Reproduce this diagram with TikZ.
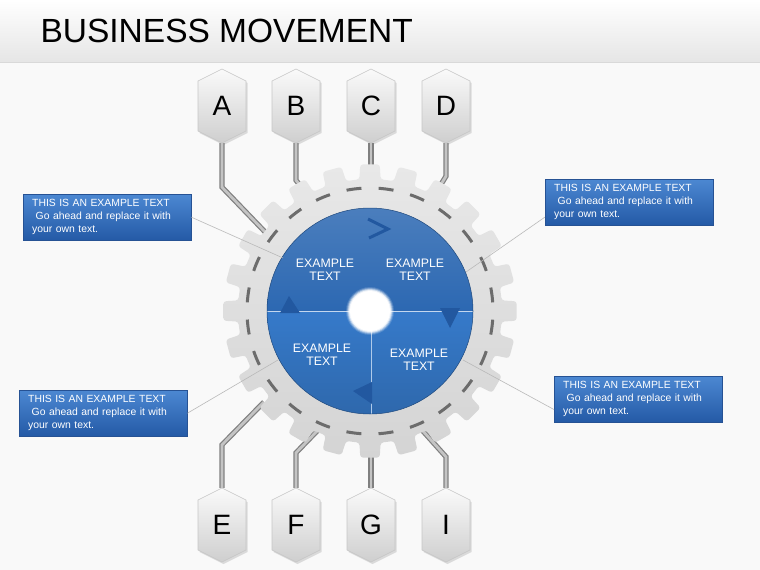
\documentclass[tikz,border=0pt]{standalone}
\usepackage{fontspec}
\setmainfont{Liberation Sans}
\usetikzlibrary{positioning, calc}
\definecolor{bgwhite}{RGB}{249,249,249}
\definecolor{discdark}{RGB}{44,104,178}
\definecolor{disclight}{RGB}{54,122,202}
\definecolor{geartop}{RGB}{232,232,232}
\definecolor{gearbot}{RGB}{212,212,212}
\definecolor{dashgray}{RGB}{108,108,108}
\definecolor{pipeedge}{RGB}{128,128,128}
\definecolor{pipecore}{RGB}{196,196,196}
\definecolor{boxtop}{RGB}{76,136,210}
\definecolor{boxbot}{RGB}{36,90,166}
\definecolor{boxedge}{RGB}{38,82,148}
\definecolor{arrowblue}{RGB}{34,88,160}

\begin{document}
\begin{tikzpicture}[
    x=1pt, y=-1pt,
    hexlabel/.style={
        minimum width=48pt,
        minimum height=74pt,
        inner sep=0pt,
        font=\fontsize{28}{30}\selectfont
    },
    hexfill/.style={top color=white!96!gray, bottom color=gray!38, draw=gray!45, line width=0.6pt},
    pipe/.style={draw=pipeedge, line width=1.2pt, double=pipecore, double distance=2.8pt},
    infobox/.style={
        draw=boxedge,
        top color=boxtop,
        bottom color=boxbot,
        text=white,
        anchor=north west,
        text width=150pt,
        minimum width=168pt,
        minimum height=46pt,
        inner xsep=9pt,
        inner ysep=0pt,
        align=left,
        font=\fontsize{10.4}{13}\selectfont
    },
    disctext/.style={text=white, align=center, font=\fontsize{12.3}{13.5}\selectfont},
    pointer/.style={draw=gray!55, line width=0.6pt}
]

    % Hintergrund und Titel
    \useasboundingbox (0,0) rectangle (760,570);
    \fill[bgwhite] (0,0) rectangle (760,570);
    \shade[top color=white, bottom color=gray!20] (0,0) rectangle (760,62);
    \draw[gray!30, line width=1pt] (0,62) -- (760,62);
    \node[anchor=base west, font=\fontsize{33.5}{36}\selectfont] (title) at (37,42) {BUSINESS MOVEMENT};

    % Sechsecke
    \foreach \name/\x/\y in {A/222/106, B/296/106, C/371/106, D/446/106,
                             E/222/525, F/296/525, G/371/525, I/446/525} {
        \fill[black, opacity=0.12] (\x+1.5,\y-35) -- ++(24,12) -- ++(0,50) -- ++(-24,12) -- ++(-24,-12) -- ++(0,-50) -- cycle;
        \shade[hexfill] (\x,\y-37) -- ++(24,12) -- ++(0,50) -- ++(-24,12) -- ++(-24,-12) -- ++(0,-50) -- cycle;
        \node[hexlabel] (hex\name) at (\x,\y) {\name};
    }

    % Zahnrad
    \coordinate (gear) at (370,311);
    \coordinate (gA) at (268,235);
    \coordinate (gB) at (302,188);
    \coordinate (gC) at (371,172);
    \coordinate (gD) at (440,186);
    \coordinate (gE) at (264,402);
    \coordinate (gF) at (320,428);
    \coordinate (gG) at (371,452);
    \coordinate (gI) at (422,430);

    % Leitungen
    \draw[pipe] (hexA.south) -- ++(0,44) -- (gA);
    \draw[pipe] (hexB.south) -- ++(0,37) -- (gB);
    \draw[pipe] (hexC.south) -- (gC);
    \draw[pipe] (hexD.south) -- ++(0,33) -- (gD);
    \draw[pipe] (hexE.north) -- ++(0,-43) -- (gE);
    \draw[pipe] (hexF.north) -- ++(0,-35) -- (gF);
    \draw[pipe] (hexG.north) -- (gG);
    \draw[pipe] (hexI.north) -- ++(0,-31) -- (gI);

    \begin{scope}[shift={(gear)}]
        \shade[top color=geartop, bottom color=gearbot, rounded corners=3pt]
            (-7.5:132pt) \foreach \a in {0,15,...,345} {
                -- (\a-4.6:132pt) -- (\a-3.8:147pt) -- (\a+3.8:147pt) -- (\a+4.6:132pt) -- (\a+7.5:132pt)
            } -- cycle;
        \draw[dashgray, line width=3pt, dash pattern=on 15pt off 17.2pt, dash phase=23.6pt] (0,0) circle (123pt);
    \end{scope}

    % Scheibe
    \begin{scope}
        \clip (gear) circle (103pt);
        \shade[top color=discdark!85!white, bottom color=discdark] (260,205) rectangle (480,311);
        \shade[top color=disclight, bottom color=disclight!85!black] (260,311) rectangle (480,416);
        \draw[white!70!disclight, line width=0.5pt] (260,311) -- (480,311);
        \draw[white!60!disclight, line width=0.5pt] (371,311) -- (371,416);
    \end{scope}
    \draw[discdark!70!black, line width=0.5pt] (gear) circle (103pt);

    % Mitte
    \foreach \r/\o in {24/0.15, 23/0.3, 22/0.5, 21/0.75} {
        \fill[white, opacity=\o] (gear) circle (\r pt);
    }
    \fill[white] (gear) circle (20pt);

    % Pfeile
    \draw[arrowblue, line width=3pt, line join=miter] (368,219) -- (388,229) -- (369,238);
    \fill[arrowblue] (440,308) -- (460,308) -- (450,328) -- cycle;
    \fill[arrowblue] (353,391) -- (372,382) -- (372,404) -- cycle;
    \fill[arrowblue] (280,313) -- (300,313) -- (289,296) -- cycle;

    % Texte
    \node[disctext] (tTL) at (325,270) {EXAMPLE\\TEXT};
    \node[disctext] (tTR) at (415,270) {EXAMPLE\\TEXT};
    \node[disctext] (tBL) at (322,355) {EXAMPLE\\TEXT};
    \node[disctext] (tBR) at (419,360) {EXAMPLE\\TEXT};

    % Infoboxen
    \node[infobox] (boxTL) at (23,194) {THIS IS AN EXAMPLE TEXT\\\ Go ahead and replace it with\\your own text.};
    \node[infobox] (boxTR) at (545,179) {THIS IS AN EXAMPLE TEXT\\\ Go ahead and replace it with\\your own text.};
    \node[infobox] (boxBL) at (19,390) {THIS IS AN EXAMPLE TEXT\\\ Go ahead and replace it with\\your own text.};
    \node[infobox] (boxBR) at (554,376) {THIS IS AN EXAMPLE TEXT\\\ Go ahead and replace it with\\your own text.};

    \coordinate (pTL) at (283,258);
    \coordinate (pTR) at (466,272);
    \coordinate (pBL) at (278,360);
    \coordinate (pBR) at (463,360);
    \draw[pointer] (boxTL.east) -- (pTL);
    \draw[pointer] (boxTR.190) -- (pTR);
    \draw[pointer] (boxBL.east) -- (pBL);
    \draw[pointer] (boxBR.187) -- (pBR);

\end{tikzpicture}
\end{document}
